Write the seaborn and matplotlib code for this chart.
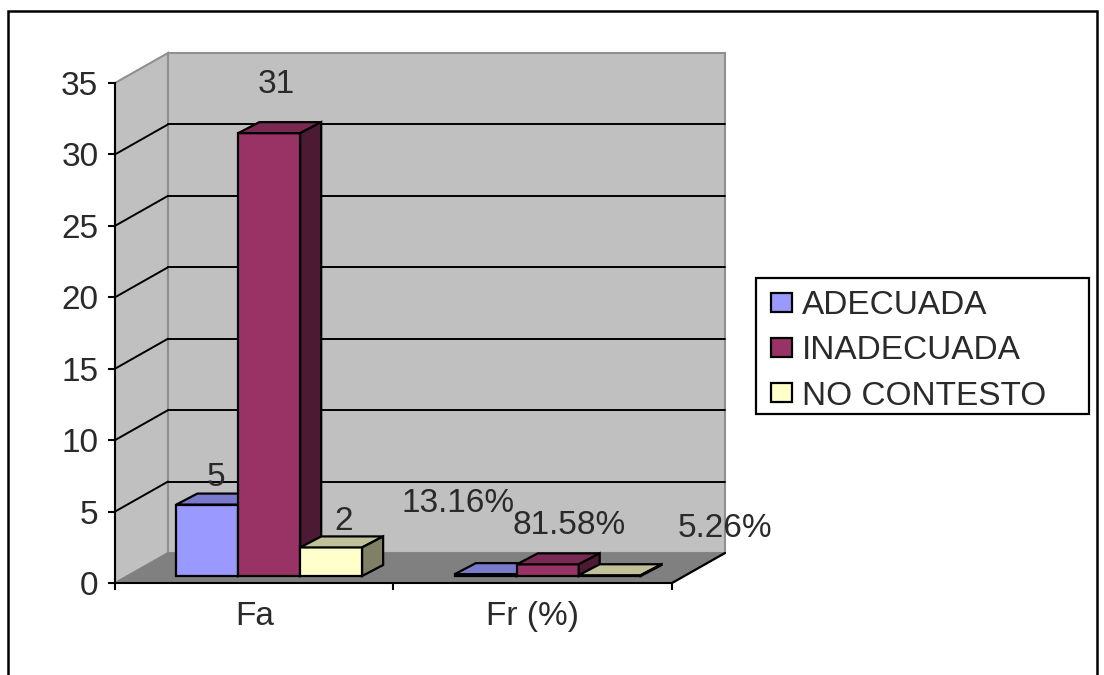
import matplotlib
matplotlib.use('Agg')
import matplotlib.pyplot as plt
import pandas as pd
import seaborn as sns
from matplotlib.patches import Polygon, Rectangle
from matplotlib.transforms import Affine2D, IdentityTransform

# valores
medidas = ['Fa', 'Fr (%)']
categorias = ['ADECUADA', 'INADECUADA', 'NO CONTESTO']
fa = [5, 31, 2]
fr = [0.1316, 0.8158, 0.0526]
y_ticks = [0, 5, 10, 15, 20, 25, 30, 35]

colores = ['#9999FF', '#993366', '#FFFFCC']
colores_top = ['#7A7ACC', '#7A2952', '#C0C099']
colores_lado = ['#4D4D80', '#4C1A33', '#808066']

W, H = 1104, 675
sns.set_style('white')
plt.rcParams['font.family'] = ['Liberation Sans', 'DejaVu Sans']
FS = 24
TXT = '#2A2A2A'

df = pd.DataFrame({
    'Medida': [medidas[0]] * 3 + [medidas[1]] * 3,
    'Categoria': categorias * 2,
    'Valor': fa + fr,
})

fig = plt.figure(figsize=(W / 100, H / 100), dpi=100, facecolor='white')
# plano frontal del grafico 3D (pixeles de la imagen)
ax = fig.add_axes([115 / W, 1 - 583 / H, (672 - 115) / W, (583 - 83) / H])
ax.patch.set_visible(False)

sns.barplot(data=df, x='Medida', y='Valor', hue='Categoria', order=medidas,
            hue_order=categorias, palette=colores, saturation=1, width=0.667, gap=0,
            edgecolor='black', linewidth=1.6, ax=ax, legend=True)
ax.set_xlim(-0.5, 1.5)
ax.set_ylim(0, 35)
ax.set_xlabel('')
ax.set_ylabel('')

# profundidad en pixeles
FONDO = (53, 30)
BASE = (15, 7)
PROF = (21, 11)


def px(x, y, dx=0, dy=0):
    a, b = ax.transData.transform((x, y))
    return (a + dx, b + dy)


def poli(puntos, color, z, edge='black', lw=1.6):
    ax.add_patch(Polygon(puntos, closed=True, facecolor=color, edgecolor=edge, linewidth=lw,
                         transform=IdentityTransform(), zorder=z, clip_on=False))


def linea(p, q, color='black', lw=1.4, z=1):
    ax.plot([p[0], q[0]], [p[1], q[1]], color=color, linewidth=lw,
            transform=IdentityTransform(), zorder=z, clip_on=False)


# paredes y piso
poli([px(-0.5, 0), px(-0.5, 35), px(-0.5, 35, *FONDO), px(-0.5, 0, *FONDO)], '#C0C0C0', 0.1, '#909090', 1.5)
poli([px(-0.5, 0, *FONDO), px(-0.5, 35, *FONDO), px(1.5, 35, *FONDO), px(1.5, 0, *FONDO)], '#C0C0C0', 0.2, '#909090', 1.5)
poli([px(-0.5, 0), px(1.5, 0), px(1.5, 0, *FONDO), px(-0.5, 0, *FONDO)], '#808080', 0.3, '#808080', 1)
for t in y_ticks[1:-1]:
    linea(px(-0.5, t), px(-0.5, t, *FONDO))
    linea(px(-0.5, t, *FONDO), px(1.5, t, *FONDO))
linea(px(1.5, 0), px(1.5, 0, *FONDO), lw=1.6)

# barras con caras superior y lateral
despl = Affine2D().translate(*BASE)
etiquetas = [f'{v:d}' for v in fa] + [f'{v:.2%}' for v in fr]
# desplazamiento de cada etiqueta respecto del tope de su barra
offs = [(9, 27), (7, 49), (12, 26), (-28, 71), (21, 39), (115, 47)]

for i, cont in enumerate(ax.containers):
    z = 3 + i
    for j, bar in enumerate(cont):
        bar.set_transform(ax.transData + despl)
        bar.set_zorder(z)
        bar.set_clip_on(False)
        x0, x1 = bar.get_x(), bar.get_x() + bar.get_width()
        h = bar.get_height()
        d = (BASE[0] + PROF[0], BASE[1] + PROF[1])
        poli([px(x0, h, *BASE), px(x1, h, *BASE), px(x1, h, *d), px(x0, h, *d)], colores_top[i], z)
        poli([px(x1, 0, *BASE), px(x1, h, *BASE), px(x1, h, *d), px(x1, 0, *d)], colores_lado[i], z)
        n = j * 3 + i
        ax.annotate(etiquetas[n], xy=px((x0 + x1) / 2, h, *BASE), xycoords=IdentityTransform(),
                    xytext=offs[n], textcoords='offset pixels', ha='center', va='center',
                    fontsize=FS, color=TXT, zorder=10, annotation_clip=False)

# ejes
sns.despine(ax=ax, top=True, right=True)
for s in ('left', 'bottom'):
    ax.spines[s].set_color('black')
    ax.spines[s].set_linewidth(1.5)
    ax.spines[s].set_zorder(2)
ax.set_yticks(y_ticks)
ax.set_xticks([-0.5, 0.5, 1.5], minor=True)
ax.set_xticks([0, 1], medidas)
ax.tick_params(axis='y', length=5, width=1.5, color='black', labelsize=FS, labelcolor=TXT, left=True, pad=7)
ax.tick_params(axis='x', which='major', length=0, labelsize=FS, labelcolor=TXT, pad=13)
ax.tick_params(axis='x', which='minor', length=5, width=1.5, color='black', bottom=True)

# leyenda: la caja va aparte para que tenga el tamano del original
fig.add_artist(Rectangle((756, H - 414), 333, 136, transform=IdentityTransform(),
                         facecolor='white', edgecolor='black', linewidth=1.6, zorder=-1))
handles, labels = ax.get_legend_handles_labels()
ax.legend(handles, labels, loc='upper left', bbox_to_anchor=(771 / W, 1 - 290 / H),
          bbox_transform=fig.transFigure, fontsize=FS, frameon=False, labelcolor=TXT,
          handlelength=0.63, handleheight=0.5, handletextpad=0.3, labelspacing=0.43,
          borderaxespad=0, borderpad=0)
ax.get_legend().set_zorder(11)

# marco exterior de la imagen (cortado abajo)
fig.add_artist(Rectangle((8, -20), 1089, H + 20 - 11, transform=IdentityTransform(),
                         fill=False, edgecolor='black', linewidth=1.8))

fig.savefig('out.png', dpi=100)
